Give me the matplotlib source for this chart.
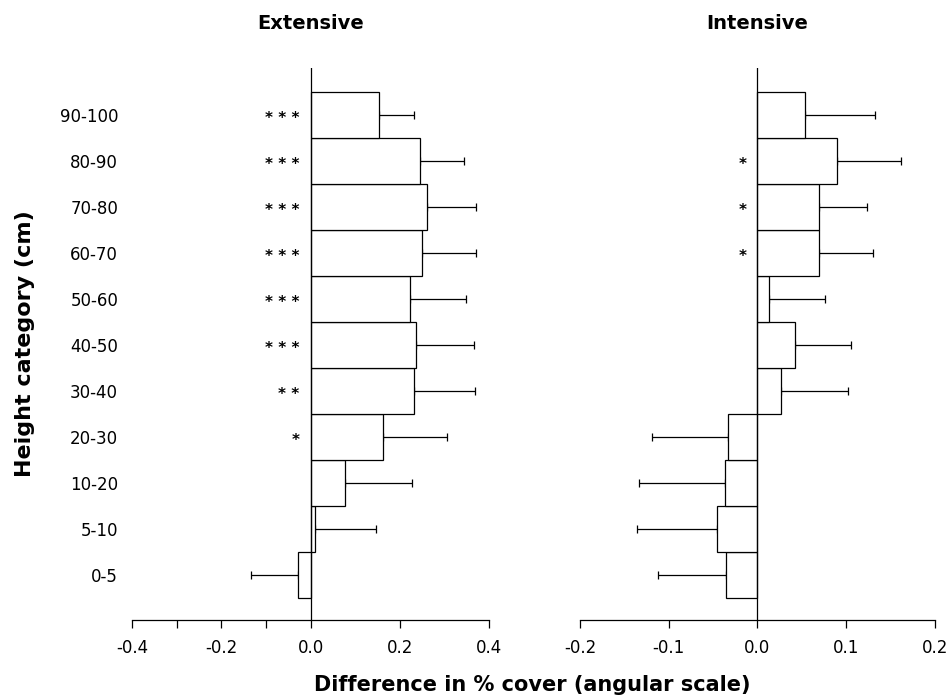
import numpy as np
import matplotlib
matplotlib.use('Agg')
import matplotlib.pyplot as plt

plt.rcParams['axes.unicode_minus'] = False
plt.rcParams['font.family'] = 'DejaVu Sans'

# height classes, bottom to top
categories = ['0-5', '5-10', '10-20', '20-30', '30-40', '40-50',
              '50-60', '60-70', '70-80', '80-90', '90-100']

# Extensive grazing
ext_mean = [-0.029, 0.009, 0.078, 0.163, 0.231, 0.237, 0.222, 0.249, 0.261, 0.245, 0.152]
ext_err = [0.105, 0.137, 0.150, 0.142, 0.138, 0.129, 0.125, 0.122, 0.110, 0.099, 0.079]
ext_sig = ['', '', '', '*', '* *', '* * *', '* * *', '* * *', '* * *', '* * *', '* * *']

# Intensive grazing
int_mean = [-0.035, -0.045, -0.036, -0.033, 0.027, 0.042, 0.013, 0.070, 0.069, 0.090, 0.054]
int_err = [0.077, 0.091, 0.098, 0.086, 0.075, 0.063, 0.063, 0.060, 0.055, 0.072, 0.079]
int_sig = ['', '', '', '', '', '', '', '*', '*', '*', '']

fig = plt.figure(figsize=(9.5, 6.97), dpi=100)
ax1 = fig.add_axes([0.139, 0.1105, 0.376, 0.792])
ax2 = fig.add_axes([0.6105, 0.1105, 0.3735, 0.792])


def draw_panel(ax, means, errs, sig, title):
    means = np.array(means)
    errs = np.array(errs)
    y = np.arange(len(means))
    # error bar only on the side away from zero
    lo = np.where(means < 0, errs, 0)
    hi = np.where(means >= 0, errs, 0)
    ax.barh(y, means, height=1.0, color='white', edgecolor='black', linewidth=0.9, zorder=2)
    ax.errorbar(means, y, xerr=[lo, hi], fmt='none', ecolor='black',
                elinewidth=0.9, capsize=2.6, capthick=0.9, zorder=1)
    ax.axvline(0, color='black', linewidth=0.9, zorder=3)
    for yi, s in zip(y, sig):
        if s:
            ax.annotate(s, xy=(0, yi), xytext=(-8, -5.5), textcoords='offset points',
                        ha='right', va='baseline', fontsize=11, fontweight='bold')
    ax.set_ylim(-0.98, 11.02)
    for side in ['top', 'right', 'left']:
        ax.spines[side].set_visible(False)
    ax.spines['bottom'].set_linewidth(0.9)
    ax.tick_params(axis='x', which='both', direction='out', length=6, width=0.9,
                   labelsize=12, pad=8)
    ax.set_title(title, fontsize=14, fontweight='bold', pad=28)


draw_panel(ax1, ext_mean, ext_err, ext_sig, 'Extensive')
draw_panel(ax2, int_mean, int_err, int_sig, 'Intensive')

ax1.set_xlim(-0.4, 0.4)
ax1.set_xticks([-0.4, -0.2, 0.0, 0.2, 0.4])
ax1.set_xticklabels(['-0.4', '-0.2', '0.0', '0.2', '0.4'])
ax1.set_xticks([-0.3, -0.1], minor=True)
ax1.set_yticks(np.arange(len(categories)))
ax1.set_yticklabels(categories, fontsize=12)
ax1.tick_params(axis='y', length=0, pad=10)
ax1.set_ylabel('Height category (cm)', fontsize=16, fontweight='bold', labelpad=18)

ax2.set_xlim(-0.2, 0.2)
ax2.set_xticks([-0.2, -0.1, 0.0, 0.1, 0.2])
ax2.set_xticklabels(['-0.2', '-0.1', '0.0', '0.1', '0.2'])
ax2.set_yticks([])

fig.text(0.56, 0.003, 'Difference in % cover (angular scale)', ha='center', va='bottom',
         fontsize=15, fontweight='bold')

fig.savefig('out.png', dpi=100, facecolor='white')
